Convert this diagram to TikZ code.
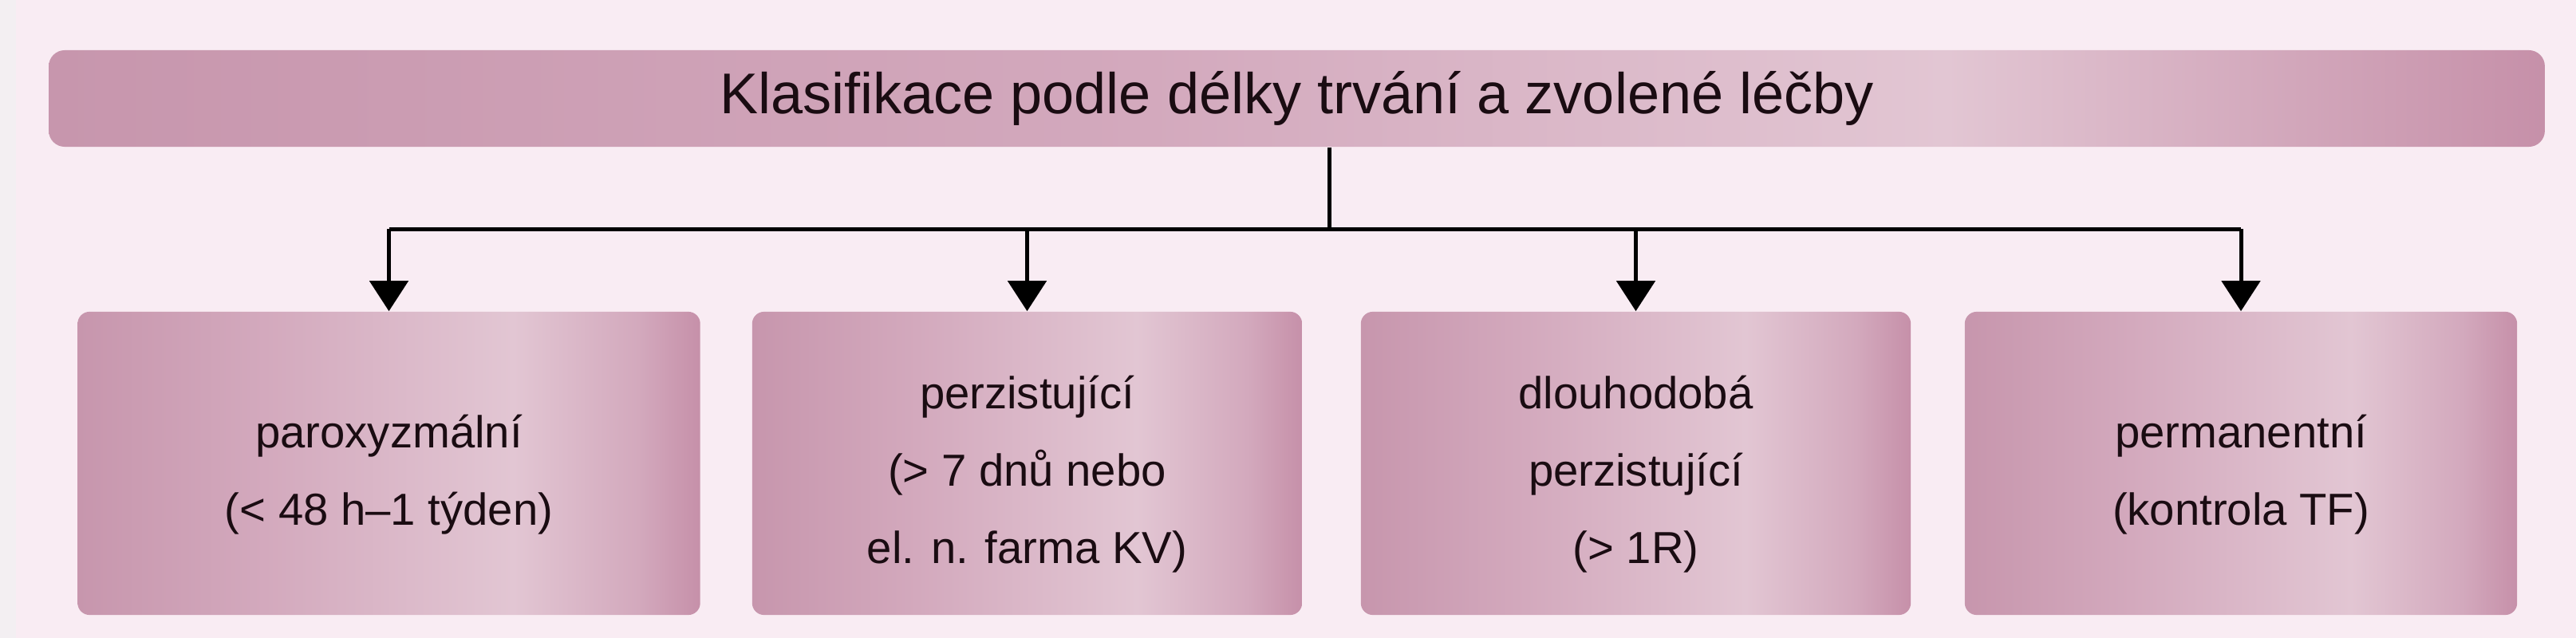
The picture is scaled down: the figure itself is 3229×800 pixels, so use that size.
\documentclass[tikz,border=0pt]{standalone}
\usepackage{fontspec}
\setmainfont{Liberation Sans}
\usetikzlibrary{arrows.meta}
\definecolor{bgpink}{HTML}{F9ECF3}
\definecolor{bgedge}{HTML}{F3EFF2}
\definecolor{mauveA}{HTML}{C796AD}
\definecolor{mauveB}{HTML}{D3A9BD}
\definecolor{mauveC}{HTML}{E2C6D3}
\definecolor{mauveD}{HTML}{C690A9}
\definecolor{txt}{HTML}{1A0C12}
\newcommand{\topgap}{\rule{0pt}{0.69cm}}
\pgfdeclarehorizontalshading{barshade}{100bp}{color(0bp)=(mauveA); color(25bp)=(mauveA); color(47bp)=(mauveB); color(63bp)=(mauveC); color(75bp)=(mauveD); color(100bp)=(mauveD)}
\pgfdeclarehorizontalshading{boxshade}{100bp}{color(0bp)=(mauveA); color(25bp)=(mauveA); color(40bp)=(mauveB); color(60bp)=(mauveC); color(70bp)=(mauveB); color(75bp)=(mauveD); color(100bp)=(mauveD)}
\tikzset{
  titlebar/.style={shade, shading=barshade, rounded corners=0.2cm,
    minimum width=31.27cm, minimum height=1.21cm, inner sep=0pt,
    font=\fontsize{20.5}{24}\selectfont, text=txt},
  catbox/.style={shade, shading=boxshade, rounded corners=0.15cm,
    minimum height=3.8cm, inner sep=0pt, align=center,
    font=\fontsize{16}{27.5}\selectfont, text=txt},
  conn/.style={line width=0.05cm, black},
  arr/.style={conn, -{Triangle[width=0.48cm,length=0.38cm]}}
}
\begin{document}
\begin{tikzpicture}[x=0.01cm, y=-0.01cm]
\useasboundingbox (0,0) rectangle (3229,800);
\fill[bgpink] (0,0) rectangle (3229,800);
\fill[bgedge] (0,0) rectangle (20,800);
\node[titlebar] (bar) at (1625.5,123.5) {Klasifikace podle délky trvání a zvolené léčby};
\node[catbox, minimum width=7.80cm] (b1) at (487.5,581) {\topgap paroxyzmální\\(< 48 h–1 týden)};
\node[catbox, minimum width=6.89cm] (b2) at (1287.5,581) {\topgap perzistující\\(> 7 dnů nebo\\el. n. farma KV)};
\node[catbox, minimum width=6.89cm] (b3) at (2050.5,581) {\topgap dlouhodobá\\perzistující\\(> 1R)};
\node[catbox, minimum width=6.92cm] (b4) at (2809,581) {\topgap permanentní\\(kontrola TF)};
\coordinate (j) at (1666,287);
\draw[conn] (bar.south -| j) -- (j);
\draw[conn] (b1.north |- j) -- (b4.north |- j);
\draw[arr] (b1.north |- j) -- (b1.north);
\draw[arr] (b2.north |- j) -- (b2.north);
\draw[arr] (b3.north |- j) -- (b3.north);
\draw[arr] (b4.north |- j) -- (b4.north);
\end{tikzpicture}
\end{document}
